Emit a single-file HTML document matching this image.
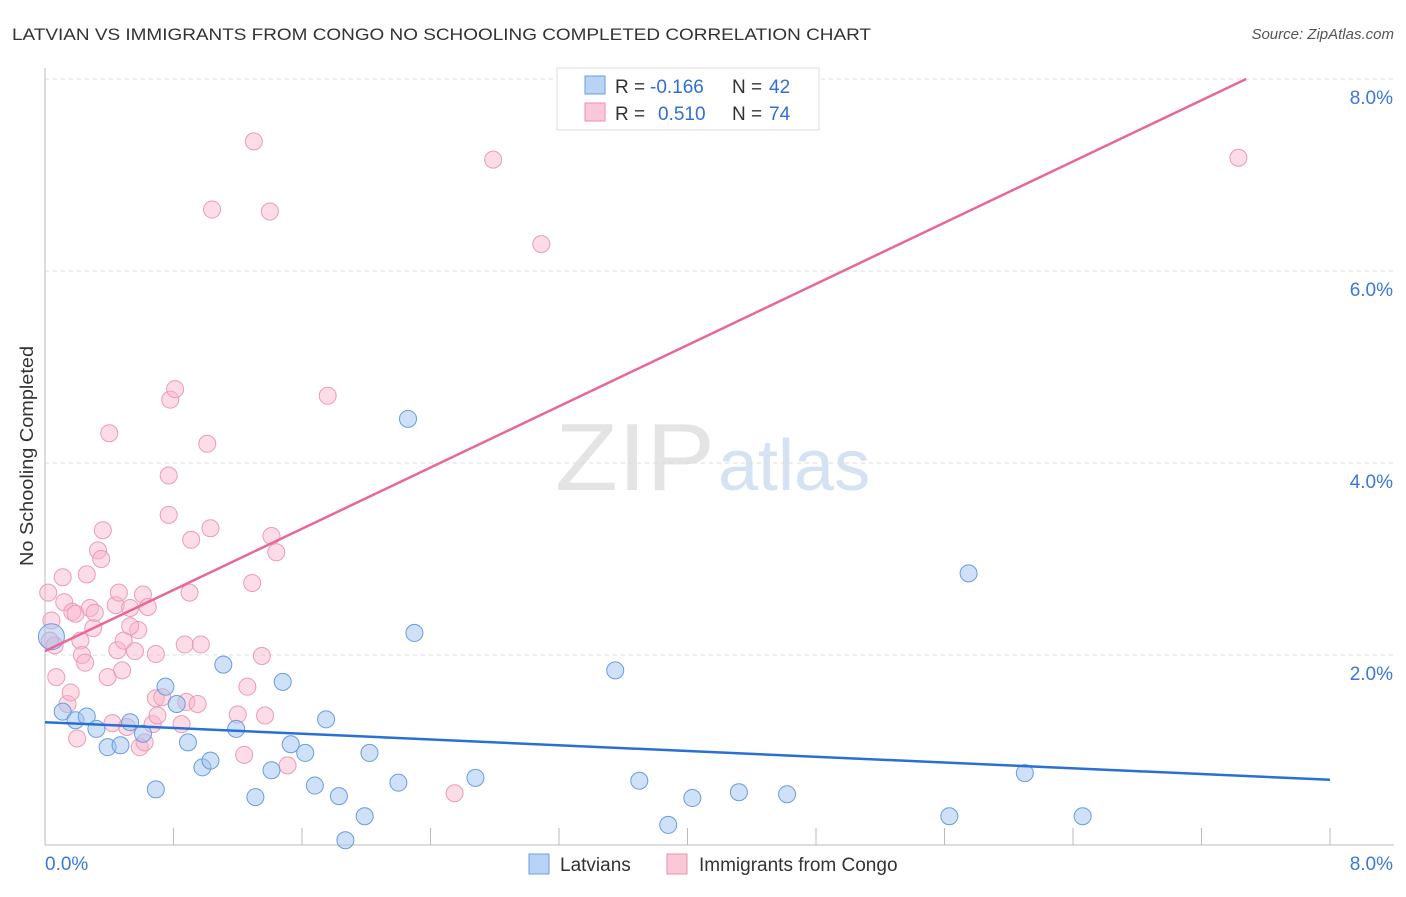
<!DOCTYPE html>
<html><head><meta charset="utf-8"><style>
body{margin:0;background:#fff;font-family:"Liberation Sans",sans-serif;}
svg text{font-family:"Liberation Sans",sans-serif;}
</style></head><body>
<svg id="chart" width="1406" height="892" xmlns="http://www.w3.org/2000/svg">
<text x="12" y="40" font-size="17" fill="#333" textLength="859" lengthAdjust="spacingAndGlyphs">LATVIAN VS IMMIGRANTS FROM CONGO NO SCHOOLING COMPLETED CORRELATION CHART</text>
<text x="1394" y="39" font-size="15" fill="#555" text-anchor="end" font-style="italic">Source: ZipAtlas.com</text>
<text transform="translate(33,456) rotate(-90)" font-size="18" fill="#333" text-anchor="middle" textLength="220" lengthAdjust="spacingAndGlyphs">No Schooling Completed</text>
<text x="715" y="490" font-size="96" fill="#e4e4e4" text-anchor="end" font-family="Liberation Serif" textLength="160" lengthAdjust="spacingAndGlyphs">ZIP</text>
<text x="718" y="490" font-size="72" fill="#d5e2f3">atlas</text>
<g id="grid"></g><g id="axes"></g><g id="marks"></g><g id="lines"></g>
<g>
<rect x="557" y="68" width="262" height="62" fill="#fff" stroke="#ddd"/>
<rect x="585" y="76" width="20" height="18" fill="#b9d3f5" stroke="#6a9be0"/>
<rect x="585" y="103" width="20" height="18" fill="#fbc8d8" stroke="#ec8fae"/>
<text x="615" y="93" font-size="19" fill="#333">R =</text>
<text x="650" y="93" font-size="19" fill="#2f6fd6">-0.166</text>
<text x="732" y="93" font-size="19" fill="#333">N =</text>
<text x="769" y="93" font-size="19" fill="#2f6fd6">42</text>
<text x="615" y="120" font-size="19" fill="#333">R =</text>
<text x="658" y="120" font-size="19" fill="#2f6fd6">0.510</text>
<text x="732" y="120" font-size="19" fill="#333">N =</text>
<text x="769" y="120" font-size="19" fill="#2f6fd6">74</text>
</g>
<g>
<rect x="529" y="854" width="20" height="20" fill="#b9d3f5" stroke="#6a9be0"/>
<text x="560" y="871" font-size="19" fill="#333">Latvians</text>
<rect x="667" y="854" width="20" height="20" fill="#fbc8d8" stroke="#ec8fae"/>
<text x="699" y="871" font-size="19" fill="#333">Immigrants from Congo</text>
</g>
</svg>
<script>
const yTicks=[2,4,6,8];
const xTickLabels=["0.0%","8.0%"];
const blueX=[0.04,0.11,0.19,0.26,0.32,0.39,0.47,0.53,0.61,0.69,0.75,0.82,0.89,0.98,1.03,1.11,1.19,1.31,1.41,1.48,1.53,1.62,1.68,1.75,1.83,1.87,1.99,2.02,2.2,2.26,2.3,2.68,3.55,3.7,3.88,4.03,4.32,4.62,5.63,5.75,6.1,6.46];
const blueY=[2.19,1.41,1.32,1.36,1.23,1.04,1.06,1.3,1.18,0.6,1.67,1.49,1.09,0.83,0.9,1.9,1.23,0.52,0.8,1.72,1.07,0.98,0.64,1.33,0.53,0.07,0.32,0.98,0.67,4.46,2.23,0.72,1.84,0.69,0.23,0.51,0.57,0.55,0.32,2.85,0.77,0.32];
const pinkX=[0.02,0.04,0.06,0.07,0.11,0.12,0.14,0.16,0.17,0.19,0.2,0.22,0.23,0.25,0.26,0.28,0.3,0.31,0.33,0.35,0.36,0.39,0.4,0.42,0.44,0.45,0.46,0.48,0.49,0.51,0.53,0.56,0.58,0.59,0.61,0.62,0.64,0.67,0.69,0.69,0.7,0.73,0.77,0.77,0.78,0.81,0.85,0.87,0.88,0.9,0.91,0.95,0.97,1.01,1.03,1.04,1.24,1.26,1.29,1.3,1.35,1.37,1.4,1.41,1.44,1.51,1.76,2.55,2.79,3.09,7.43,1.2,0.03,0.53];
const pinkY=[2.65,2.36,2.1,1.77,2.81,2.55,1.49,1.61,2.45,2.43,1.13,2.15,2.0,1.92,2.84,2.49,2.28,2.44,3.09,3.0,3.3,1.77,4.31,1.29,2.52,2.05,2.65,1.84,2.15,1.25,2.49,2.04,2.26,1.04,2.63,1.09,2.5,1.28,2.01,1.55,1.37,1.56,3.87,3.46,4.66,4.77,1.28,2.11,1.51,2.65,3.2,1.49,2.11,4.2,3.32,6.64,0.96,1.67,2.75,7.35,1.99,1.37,6.62,3.24,3.07,0.85,4.7,0.56,7.16,6.28,7.18,1.38,2.15,2.3];
const X0=45,X1=1330,Y0=847,PY=96;
const xs=v=>X0+v*(X1-X0)/8, ys=v=>Y0-v*PY;
const NS="http://www.w3.org/2000/svg";
function mk(t,a,p){const e=document.createElementNS(NS,t);for(const k in a)e.setAttribute(k,a[k]);p.appendChild(e);return e;}
const grid=document.getElementById('grid'),axes=document.getElementById('axes'),marks=document.getElementById('marks'),lines=document.getElementById('lines');
yTicks.forEach(t=>{
 const g=mk('line',{x1:X0,x2:1394,y1:ys(t),y2:ys(t),stroke:'#ddd','stroke-dasharray':'4,4'},grid);
 
 
 const l=mk('text',{x:1393,y:ys(t)+25,'font-size':19,fill:'#3b78d8','text-anchor':'end'},axes);
 l.textContent=t.toFixed(1)+'%';
 
 
});
const ax=mk('line',{x1:X0,x2:X0,y1:68,y2:845,stroke:'#bbb'},axes);


const bx=mk('line',{x1:X0,x2:1394,y1:845,y2:845,stroke:'#bbb'},axes);


for(let i=0;i<=10;i++){const t=mk('line',{x1:xs(i*0.8),x2:xs(i*0.8),y1:828,y2:845,stroke:'#bbb'},axes);
 
 }
[[0,'start',45],[8,'end',1393]].forEach((d,i)=>{const t=mk('text',{x:d[2],y:870,'font-size':19,fill:'#3b78d8','text-anchor':d[1]},axes);t.textContent=xTickLabels[i];
 
 });
pinkX.forEach((x,i)=>{const c=mk('circle',{cx:xs(x),cy:ys(pinkY[i]),r:8.5,fill:'rgba(248,180,202,0.45)',stroke:'#eb9bb6','stroke-width':1},marks);
 
 });
blueX.forEach((x,i)=>{const c=mk('circle',{cx:xs(x),cy:ys(blueY[i]),r:i==0?13:8.5,fill:'rgba(160,196,240,0.5)',stroke:'#6a9be0','stroke-width':1},marks);
 
 });
let [ab,bb]=[1.30,-0.075];
const bl=mk('line',{x1:xs(0),y1:ys(ab),x2:xs(8),y2:ys(ab+bb*8),stroke:'#2a6fd6','stroke-width':2.5},lines);


let [ap,bp]=[2.04,0.797];
const xe=Math.min(8,(8-ap)/bp);
const pl=mk('line',{x1:xs(0),y1:ys(ap),x2:xs(xe),y2:ys(ap+bp*xe),stroke:'#e8679a','stroke-width':2.5},lines);


</script>
</body></html>
